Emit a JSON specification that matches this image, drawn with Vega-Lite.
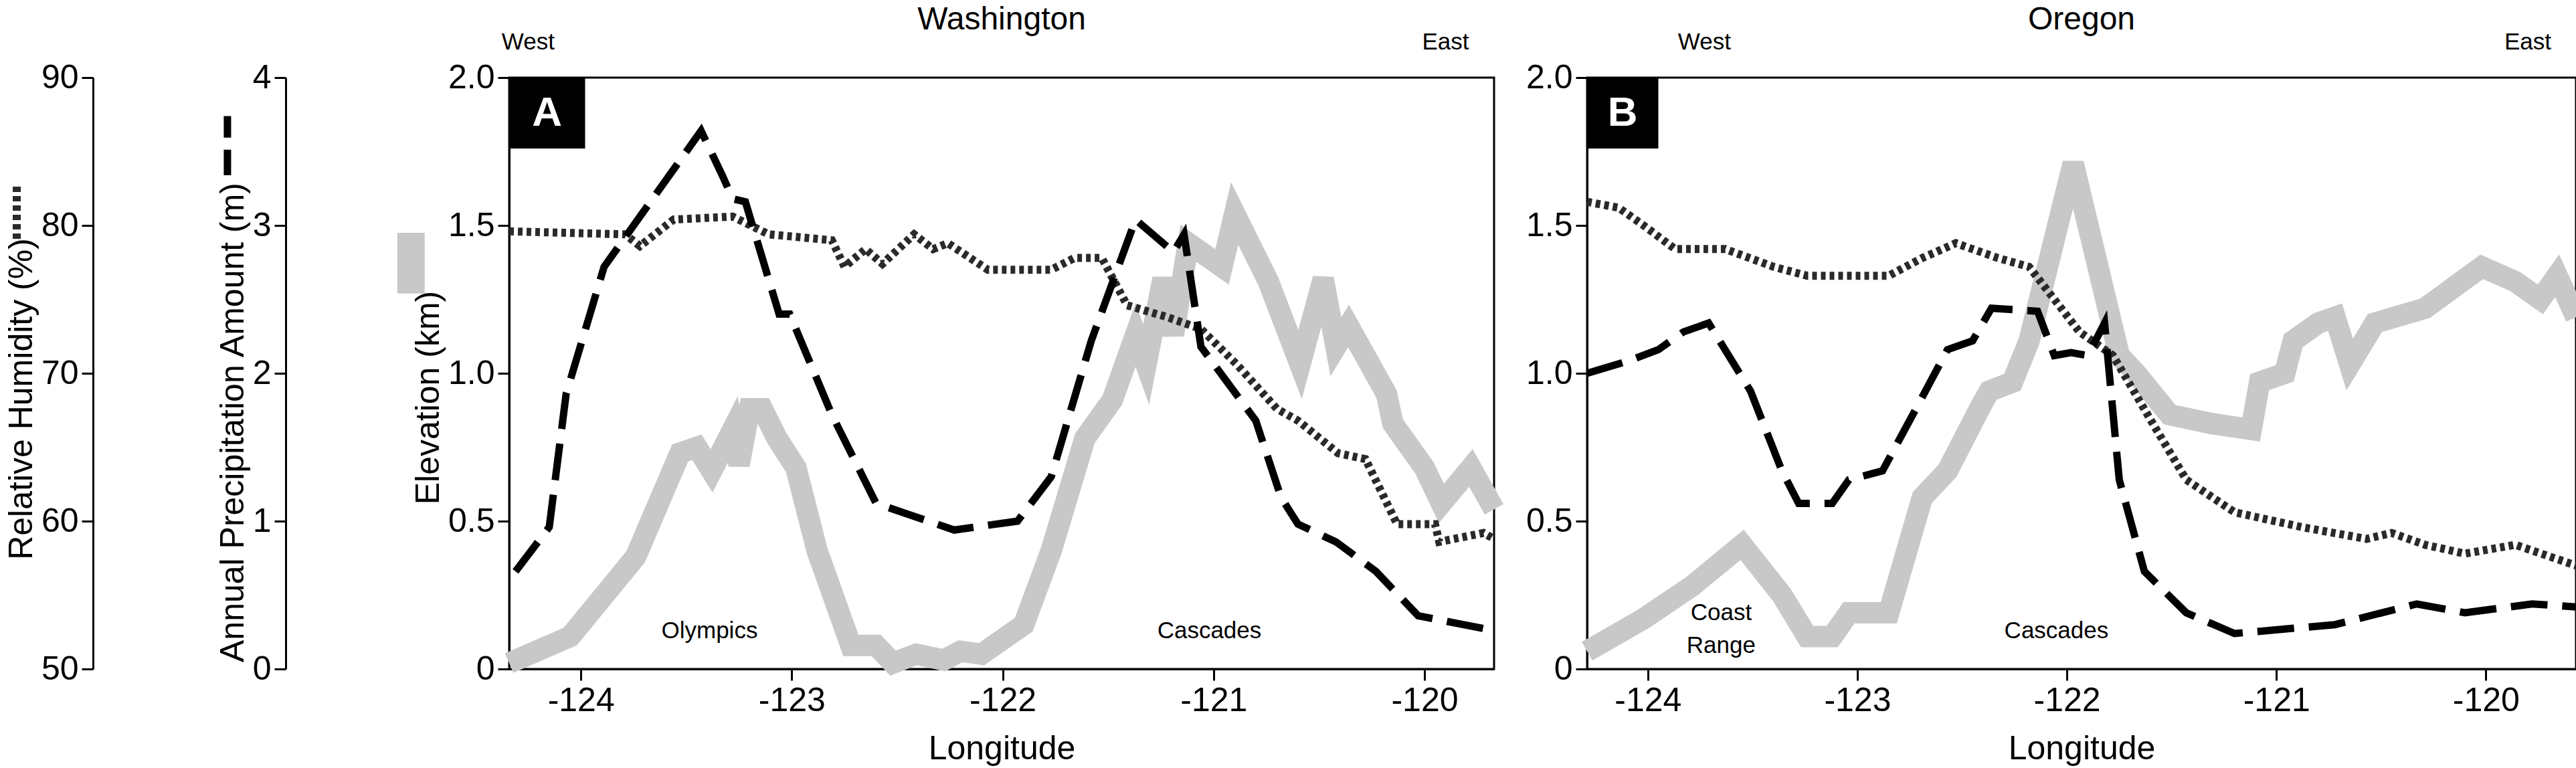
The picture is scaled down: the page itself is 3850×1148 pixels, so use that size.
{
  "$schema": "https://vega.github.io/schema/vega-lite/v6.json",
  "autosize": "pad",
  "padding": {"left": 0, "top": 4, "right": 0, "bottom": 0},
  "background": "white",
  "config": {
    "font": "Liberation Sans",
    "view": {"stroke": "black", "strokeWidth": 3},
    "axis": {
      "labelFontSize": 50, "titleFontSize": 50, "titleFontWeight": "normal",
      "labelColor": "black", "titleColor": "black", "domainColor": "black", "tickColor": "black",
      "domainWidth": 3, "tickWidth": 3, "tickSize": 17, "labelPadding": 5, "grid": false
    },
    "text": {"font": "Liberation Sans", "color": "black"},
    "title": {"font": "Liberation Sans", "fontSize": 48, "fontWeight": "normal", "color": "black", "offset": -8}
  },
  "datasets": {
    "wa_elev": [
      {"lon": -124.34, "km": 0.02}, {"lon": -124.05, "km": 0.11}, {"lon": -123.74, "km": 0.38}, {"lon": -123.53, "km": 0.73},
      {"lon": -123.45, "km": 0.75}, {"lon": -123.38, "km": 0.67}, {"lon": -123.28, "km": 0.81}, {"lon": -123.25, "km": 0.69},
      {"lon": -123.2, "km": 0.88}, {"lon": -123.14, "km": 0.88}, {"lon": -123.07, "km": 0.78}, {"lon": -122.98, "km": 0.68},
      {"lon": -122.88, "km": 0.4}, {"lon": -122.72, "km": 0.08}, {"lon": -122.6, "km": 0.08}, {"lon": -122.52, "km": 0.02},
      {"lon": -122.41, "km": 0.05}, {"lon": -122.28, "km": 0.03}, {"lon": -122.2, "km": 0.06}, {"lon": -122.1, "km": 0.05},
      {"lon": -121.9, "km": 0.15}, {"lon": -121.77, "km": 0.4}, {"lon": -121.61, "km": 0.78}, {"lon": -121.48, "km": 0.91},
      {"lon": -121.37, "km": 1.13}, {"lon": -121.32, "km": 1.03}, {"lon": -121.24, "km": 1.32}, {"lon": -121.19, "km": 1.13},
      {"lon": -121.12, "km": 1.44}, {"lon": -120.96, "km": 1.36}, {"lon": -120.9, "km": 1.54}, {"lon": -120.74, "km": 1.31},
      {"lon": -120.59, "km": 1.03}, {"lon": -120.48, "km": 1.32}, {"lon": -120.42, "km": 1.09}, {"lon": -120.36, "km": 1.16},
      {"lon": -120.18, "km": 0.93}, {"lon": -120.15, "km": 0.83}, {"lon": -120.0, "km": 0.68}, {"lon": -119.92, "km": 0.56},
      {"lon": -119.78, "km": 0.68}, {"lon": -119.67, "km": 0.54}
    ],
    "wa_precip": [
      {"lon": -124.31, "m": 0.66}, {"lon": -124.15, "m": 0.96}, {"lon": -124.07, "m": 1.86}, {"lon": -123.89, "m": 2.72},
      {"lon": -123.43, "m": 3.64}, {"lon": -123.33, "m": 3.34}, {"lon": -123.28, "m": 3.18}, {"lon": -123.22, "m": 3.16},
      {"lon": -123.06, "m": 2.4}, {"lon": -123.01, "m": 2.4}, {"lon": -122.81, "m": 1.72}, {"lon": -122.6, "m": 1.12},
      {"lon": -122.23, "m": 0.94}, {"lon": -121.93, "m": 1.0}, {"lon": -121.77, "m": 1.3}, {"lon": -121.58, "m": 2.22},
      {"lon": -121.37, "m": 3.04}, {"lon": -121.19, "m": 2.82}, {"lon": -121.14, "m": 2.94}, {"lon": -121.06, "m": 2.18},
      {"lon": -120.8, "m": 1.68}, {"lon": -120.68, "m": 1.16}, {"lon": -120.6, "m": 0.98}, {"lon": -120.42, "m": 0.86},
      {"lon": -120.23, "m": 0.66}, {"lon": -120.03, "m": 0.36}, {"lon": -119.67, "m": 0.26}
    ],
    "wa_rh": [
      {"lon": -124.34, "rh": 79.6}, {"lon": -123.79, "rh": 79.4}, {"lon": -123.72, "rh": 78.6}, {"lon": -123.56, "rh": 80.4},
      {"lon": -123.28, "rh": 80.6}, {"lon": -123.11, "rh": 79.4}, {"lon": -122.81, "rh": 79.0}, {"lon": -122.75, "rh": 77.2},
      {"lon": -122.65, "rh": 78.4}, {"lon": -122.57, "rh": 77.4}, {"lon": -122.42, "rh": 79.4}, {"lon": -122.33, "rh": 78.4},
      {"lon": -122.26, "rh": 78.8}, {"lon": -122.07, "rh": 77.0}, {"lon": -121.77, "rh": 77.0}, {"lon": -121.66, "rh": 77.8},
      {"lon": -121.53, "rh": 77.8}, {"lon": -121.41, "rh": 74.6}, {"lon": -121.22, "rh": 73.8}, {"lon": -121.06, "rh": 73.0},
      {"lon": -120.89, "rh": 70.6}, {"lon": -120.7, "rh": 67.6}, {"lon": -120.6, "rh": 66.8}, {"lon": -120.41, "rh": 64.6},
      {"lon": -120.28, "rh": 64.2}, {"lon": -120.13, "rh": 59.8}, {"lon": -119.95, "rh": 59.8}, {"lon": -119.93, "rh": 58.6},
      {"lon": -119.72, "rh": 59.2}, {"lon": -119.67, "rh": 58.8}
    ],
    "or_elev": [
      {"lon": -124.29, "km": 0.06}, {"lon": -124.02, "km": 0.17}, {"lon": -123.79, "km": 0.28}, {"lon": -123.55, "km": 0.42},
      {"lon": -123.36, "km": 0.25}, {"lon": -123.24, "km": 0.11}, {"lon": -123.12, "km": 0.11}, {"lon": -123.04, "km": 0.19},
      {"lon": -122.85, "km": 0.19}, {"lon": -122.69, "km": 0.58}, {"lon": -122.57, "km": 0.67}, {"lon": -122.41, "km": 0.89},
      {"lon": -122.37, "km": 0.94}, {"lon": -122.26, "km": 0.97}, {"lon": -122.18, "km": 1.11}, {"lon": -121.97, "km": 1.71},
      {"lon": -121.75, "km": 1.06}, {"lon": -121.67, "km": 1.0}, {"lon": -121.51, "km": 0.86}, {"lon": -121.31, "km": 0.83},
      {"lon": -121.12, "km": 0.81}, {"lon": -121.08, "km": 0.97}, {"lon": -120.96, "km": 1.0}, {"lon": -120.92, "km": 1.11},
      {"lon": -120.8, "km": 1.17}, {"lon": -120.72, "km": 1.19}, {"lon": -120.65, "km": 1.03}, {"lon": -120.53, "km": 1.17},
      {"lon": -120.29, "km": 1.22}, {"lon": -120.02, "km": 1.36}, {"lon": -119.86, "km": 1.31}, {"lon": -119.74, "km": 1.25},
      {"lon": -119.66, "km": 1.33}, {"lon": -119.57, "km": 1.19}
    ],
    "or_precip": [
      {"lon": -124.29, "m": 2.0}, {"lon": -124.1, "m": 2.08}, {"lon": -123.95, "m": 2.16}, {"lon": -123.83, "m": 2.28},
      {"lon": -123.71, "m": 2.34}, {"lon": -123.51, "m": 1.88}, {"lon": -123.36, "m": 1.34}, {"lon": -123.28, "m": 1.12},
      {"lon": -123.12, "m": 1.12}, {"lon": -123.04, "m": 1.28}, {"lon": -122.88, "m": 1.34}, {"lon": -122.69, "m": 1.84},
      {"lon": -122.57, "m": 2.16}, {"lon": -122.45, "m": 2.22}, {"lon": -122.36, "m": 2.44}, {"lon": -122.14, "m": 2.42},
      {"lon": -122.06, "m": 2.12}, {"lon": -121.98, "m": 2.14}, {"lon": -121.9, "m": 2.12}, {"lon": -121.82, "m": 2.34},
      {"lon": -121.75, "m": 1.28}, {"lon": -121.63, "m": 0.66}, {"lon": -121.43, "m": 0.38}, {"lon": -121.2, "m": 0.24},
      {"lon": -120.72, "m": 0.3}, {"lon": -120.33, "m": 0.44}, {"lon": -120.1, "m": 0.38}, {"lon": -119.78, "m": 0.44},
      {"lon": -119.57, "m": 0.42}
    ],
    "or_rh": [
      {"lon": -124.29, "rh": 81.6}, {"lon": -124.14, "rh": 81.2}, {"lon": -124.02, "rh": 80.0}, {"lon": -123.87, "rh": 78.4},
      {"lon": -123.63, "rh": 78.4}, {"lon": -123.4, "rh": 77.2}, {"lon": -123.24, "rh": 76.6}, {"lon": -122.85, "rh": 76.6},
      {"lon": -122.69, "rh": 77.8}, {"lon": -122.53, "rh": 78.8}, {"lon": -122.33, "rh": 77.8}, {"lon": -122.18, "rh": 77.2},
      {"lon": -122.06, "rh": 75.0}, {"lon": -121.94, "rh": 72.8}, {"lon": -121.78, "rh": 71.2}, {"lon": -121.59, "rh": 66.6},
      {"lon": -121.43, "rh": 62.8}, {"lon": -121.2, "rh": 60.6}, {"lon": -120.88, "rh": 59.6}, {"lon": -120.57, "rh": 58.8},
      {"lon": -120.45, "rh": 59.2}, {"lon": -120.29, "rh": 58.4}, {"lon": -120.1, "rh": 57.8}, {"lon": -119.86, "rh": 58.4},
      {"lon": -119.57, "rh": 57.0}
    ],
    "wa_labels": [
      {"lon": -124.25, "km": 2.12, "label": "West"}, {"lon": -119.9, "km": 2.12, "label": "East"},
      {"lon": -123.39, "km": 0.13, "label": "Olympics"}, {"lon": -121.02, "km": 0.13, "label": "Cascades"}
    ],
    "or_labels": [
      {"lon": -123.73, "km": 2.12, "label": "West"}, {"lon": -119.8, "km": 2.12, "label": "East"},
      {"lon": -123.65, "km": 0.19, "label": "Coast"}, {"lon": -123.65, "km": 0.08, "label": "Range"},
      {"lon": -122.05, "km": 0.13, "label": "Cascades"}
    ],
    "wa_box": [{"x0": -124.34, "x1": -123.98, "y0": 1.76, "y1": 2.0, "cx": -124.16, "cy": 1.88, "label": "A"}],
    "or_box": [{"x0": -124.29, "x1": -123.95, "y0": 1.76, "y1": 2.0, "cx": -124.12, "cy": 1.88, "label": "B"}]
  },
  "bounds": "flush",
  "spacing": 0,
  "hconcat": [
    {
      "width": 139, "height": 884,
      "view": {"stroke": null},
      "data": {"values": [{"pos": 0.18, "lo": 79.1, "hi": 82.7}]},
      "mark": {"type": "rule", "strokeWidth": 12, "strokeDash": [8, 6], "color": "#2a2a2a"},
      "encoding": {
        "x": {"field": "pos", "type": "quantitative", "scale": {"domain": [0, 1]}, "axis": null},
        "y": {"field": "lo", "type": "quantitative", "scale": {"domain": [50, 90], "nice": false, "zero": false},
              "axis": {"offset": -139, "values": [50, 60, 70, 80, 90], "title": "Relative Humidity (%)", "titleY": 480}},
        "y2": {"field": "hi"}
      }
    },
    {
      "width": 622, "height": 884,
      "view": {"stroke": null},
      "layer": [
        {
          "data": {"values": [{"pos": 0.323, "lo": 3.34, "hi": 3.74}]},
          "mark": {"type": "rule", "strokeWidth": 11, "strokeDash": [38, 18], "color": "black"},
          "encoding": {
            "x": {"field": "pos", "type": "quantitative", "scale": {"domain": [0, 1]}, "axis": null},
            "y": {"field": "lo", "type": "quantitative", "scale": {"domain": [0, 4], "nice": false},
                  "axis": {"offset": -288, "values": [0, 1, 2, 3, 4], "format": "d", "title": "Annual Precipitation Amount (m)", "titleY": 515}},
            "y2": {"field": "hi"}
          }
        },
        {
          "data": {"values": [{"pos": 0.764, "lo": 2.54, "hi": 2.95}]},
          "mark": {"type": "rule", "strokeWidth": 41, "color": "#c8c8c8"},
          "encoding": {
            "x": {"field": "pos", "type": "quantitative"},
            "y": {"field": "lo", "type": "quantitative"},
            "y2": {"field": "hi"}
          }
        }
      ]
    },
    {
      "width": 1472, "height": 884,
      "title": {"text": "Washington"},
      "resolve": {"scale": {"y": "independent"}},
      "encoding": {
        "x": {"field": "lon", "type": "quantitative",
              "scale": {"domain": [-124.34, -119.67], "nice": false, "zero": false},
              "axis": {"values": [-124, -123, -122, -121, -120], "labelExpr": "'-' + abs(datum.value)", "title": "Longitude", "titlePadding": 22}}
      },
      "layer": [
        {
          "data": {"name": "wa_elev"},
          "mark": {"type": "line", "strokeWidth": 32, "color": "#c8c8c8", "strokeJoin": "miter"},
          "encoding": {"y": {"field": "km", "type": "quantitative", "scale": {"domain": [0, 2], "nice": false},
            "axis": {"values": [0, 0.5, 1, 1.5, 2], "labelExpr": "datum.value == 0 ? '0' : format(datum.value, '.1f')", "title": "Elevation (km)", "titleY": 478}}}
        },
        {
          "data": {"name": "wa_rh"},
          "mark": {"type": "line", "strokeWidth": 12, "strokeDash": [7, 6], "color": "#2a2a2a"},
          "encoding": {"y": {"field": "rh", "type": "quantitative", "scale": {"domain": [50, 90], "nice": false, "zero": false}, "axis": null}}
        },
        {
          "data": {"name": "wa_precip"},
          "mark": {"type": "line", "strokeWidth": 11, "strokeDash": [55, 22], "color": "black"},
          "encoding": {"y": {"field": "m", "type": "quantitative", "scale": {"domain": [0, 4], "nice": false}, "axis": null}}
        },
        {
          "data": {"name": "wa_box"},
          "mark": {"type": "rect", "color": "black"},
          "encoding": {"x": {"field": "x0", "type": "quantitative"}, "x2": {"field": "x1"},
            "y": {"field": "y0", "type": "quantitative", "scale": {"domain": [0, 2], "nice": false}, "axis": null}, "y2": {"field": "y1"}}
        },
        {
          "data": {"name": "wa_box"},
          "mark": {"type": "text", "color": "white", "fontSize": 62, "fontWeight": "bold"},
          "encoding": {"x": {"field": "cx", "type": "quantitative"},
            "y": {"field": "cy", "type": "quantitative", "scale": {"domain": [0, 2], "nice": false}, "axis": null},
            "text": {"field": "label"}}
        },
        {
          "data": {"name": "wa_labels"},
          "mark": {"type": "text", "fontSize": 35},
          "encoding": {
            "y": {"field": "km", "type": "quantitative", "scale": {"domain": [0, 2], "nice": false}, "axis": null},
            "text": {"field": "label"}}
        }
      ]
    },
    {
      "width": 139, "height": 884,
      "view": {"stroke": null},
      "data": {"values": []},
      "mark": "rule",
      "encoding": {}
    },
    {
      "width": 1478, "height": 884,
      "title": {"text": "Oregon"},
      "resolve": {"scale": {"y": "independent"}},
      "encoding": {
        "x": {"field": "lon", "type": "quantitative",
              "scale": {"domain": [-124.29, -119.57], "nice": false, "zero": false},
              "axis": {"values": [-124, -123, -122, -121, -120], "labelExpr": "'-' + abs(datum.value)", "title": "Longitude", "titlePadding": 22}}
      },
      "layer": [
        {
          "data": {"name": "or_elev"},
          "mark": {"type": "line", "strokeWidth": 32, "color": "#c8c8c8", "strokeJoin": "miter"},
          "encoding": {"y": {"field": "km", "type": "quantitative", "scale": {"domain": [0, 2], "nice": false},
            "axis": {"values": [0, 0.5, 1, 1.5, 2], "labelExpr": "datum.value == 0 ? '0' : format(datum.value, '.1f')", "title": null}}}
        },
        {
          "data": {"name": "or_rh"},
          "mark": {"type": "line", "strokeWidth": 12, "strokeDash": [7, 6], "color": "#2a2a2a"},
          "encoding": {"y": {"field": "rh", "type": "quantitative", "scale": {"domain": [50, 90], "nice": false, "zero": false}, "axis": null}}
        },
        {
          "data": {"name": "or_precip"},
          "mark": {"type": "line", "strokeWidth": 11, "strokeDash": [55, 22], "color": "black"},
          "encoding": {"y": {"field": "m", "type": "quantitative", "scale": {"domain": [0, 4], "nice": false}, "axis": null}}
        },
        {
          "data": {"name": "or_box"},
          "mark": {"type": "rect", "color": "black"},
          "encoding": {"x": {"field": "x0", "type": "quantitative"}, "x2": {"field": "x1"},
            "y": {"field": "y0", "type": "quantitative", "scale": {"domain": [0, 2], "nice": false}, "axis": null}, "y2": {"field": "y1"}}
        },
        {
          "data": {"name": "or_box"},
          "mark": {"type": "text", "color": "white", "fontSize": 62, "fontWeight": "bold"},
          "encoding": {"x": {"field": "cx", "type": "quantitative"},
            "y": {"field": "cy", "type": "quantitative", "scale": {"domain": [0, 2], "nice": false}, "axis": null},
            "text": {"field": "label"}}
        },
        {
          "data": {"name": "or_labels"},
          "mark": {"type": "text", "fontSize": 35},
          "encoding": {
            "y": {"field": "km", "type": "quantitative", "scale": {"domain": [0, 2], "nice": false}, "axis": null},
            "text": {"field": "label"}}
        }
      ]
    }
  ]
}
